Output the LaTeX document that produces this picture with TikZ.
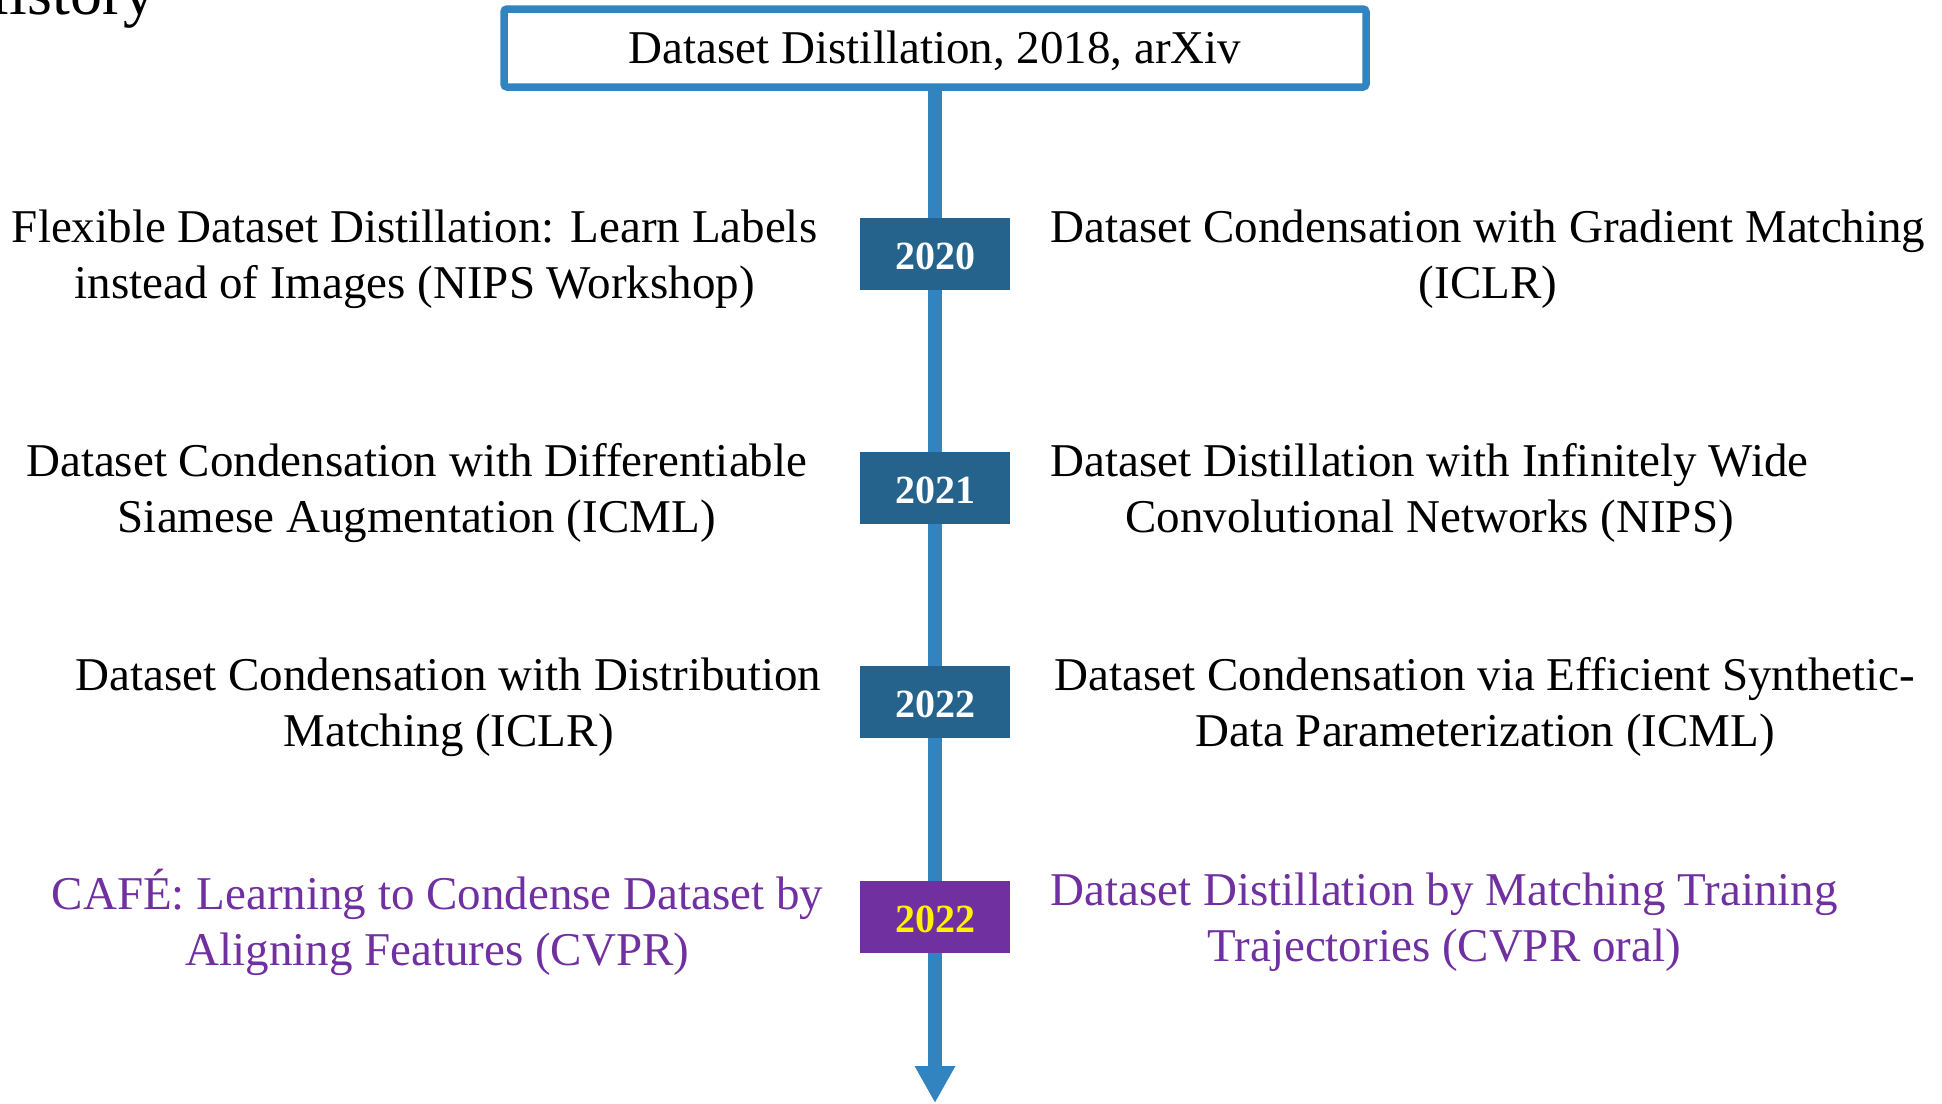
\documentclass[tikz,border=0pt]{standalone}
\usepackage{fontspec}
\setmainfont{Liberation Serif}
\usetikzlibrary{arrows.meta, positioning}
\definecolor{lineblue}{RGB}{50,132,192}
\definecolor{yearblue}{RGB}{37,99,140}
\definecolor{cafepurple}{RGB}{112,48,160}

\begin{document}
\begin{tikzpicture}[x=0.5pt, y=-0.5pt,
    paper/.style={font=\fontsize{23.5}{28}\selectfont, align=center, inner sep=0pt, yshift=-2.5pt},
    newpaper/.style={paper, text=cafepurple},
    yearbox/.style={fill=yearblue, text=white, font=\fontsize{20}{24}\selectfont\bfseries,
      minimum width=75pt, minimum height=36pt, inner sep=0pt, text height=16pt},
    node distance=21pt]
  \useasboundingbox (0,0) rectangle (1942,1103);
  \node[anchor=base east, inner sep=0pt, font=\fontsize{32}{36}\selectfont] (hist) at (156,14) {History};
  \node[draw=lineblue, fill=white, line width=3.75pt, rounded corners=1.5pt,
    minimum width=431pt, minimum height=39pt, text height=19pt,
    font=\fontsize{23.5}{28}\selectfont] (root) at (935,48)
    {Dataset Distillation, 2018, arXiv};
  \coordinate (tip) at (935,1103);
  \draw[lineblue, line width=7pt, -{Triangle[width=19pt,length=18.5pt]}] (root.south) -- (tip);

  % years
  \node[yearbox] (y20) at (935,254) {2020};
  \node[yearbox] (y21) at (935,488) {2021};
  \node[yearbox] (y22) at (935,702) {2022};
  \node[yearbox, fill=cafepurple, text=yellow] (y22b) at (935,917) {2022};

  % papers
  \node[paper, left=of y20] (fdd) {Flexible Dataset Distillation: Learn Labels\\instead of Images (NIPS Workshop)};
  \node[paper, right=20pt of y20] (dcgm) {Dataset Condensation with Gradient Matching\\(ICLR)};
  \node[paper, left=26pt of y21] (dsa) {Dataset Condensation with Differentiable\\Siamese Augmentation (ICML)};
  \node[paper, right=20pt of y21] (kip) {Dataset Distillation with Infinitely Wide\\Convolutional Networks (NIPS)};
  \node[paper, left=19pt of y22] (dm) {Dataset Condensation with Distribution\\Matching (ICLR)};
  \node[paper, right=22pt of y22] (idc) {Dataset Condensation via Efficient Synthetic-\\Data Parameterization (ICML)};
  \node[newpaper, left=18pt of y22b] (cafe) {CAFÉ: Learning to Condense Dataset by\\Aligning Features (CVPR)};
  \node[newpaper, right=20pt of y22b] (mtt) {Dataset Distillation by Matching Training\\Trajectories (CVPR oral)};
\end{tikzpicture}
\end{document}
